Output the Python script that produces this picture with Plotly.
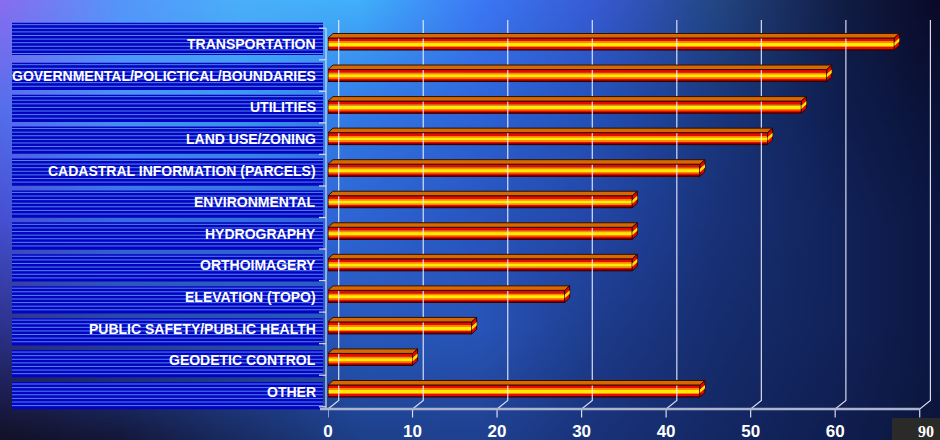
import base64
import struct
import zlib

import numpy as np
import plotly.graph_objects as go

# ---------------- data ----------------
categories = [
    "TRANSPORTATION",
    "GOVERNMENTAL/POLICTICAL/BOUNDARIES",
    "UTILITIES",
    "LAND USE/ZONING",
    "CADASTRAL INFORMATION (PARCELS)",
    "ENVIRONMENTAL",
    "HYDROGRAPHY",
    "ORTHOIMAGERY",
    "ELEVATION (TOPO)",
    "PUBLIC SAFETY/PUBLIC HEALTH",
    "GEODETIC CONTROL",
    "OTHER",
]
values = [67, 59, 56, 52, 44, 36, 36, 36, 28, 17, 10, 44]
x_ticks = [0, 10, 20, 30, 40, 50, 60, 70]
x_tick_labels = ["0", "10", "20", "30", "40", "50", "60", ""]
slide_number = "90"

# ---------------- geometry / style ----------------
W, H = 940, 440
N = len(categories)
X0_PX = 328.0          # pixel of x = 0
PX_PER_X = 8.453       # pixels per x unit
X_MAX = 71.8
ROW0_PX = 44.0         # pixel centre of first row
ROW_PX = 31.545        # pixels per row
PLOT_TOP_PX, PLOT_BOT_PX = 20.0, 418.0
AXIS_PX = 409.0        # floor (axis) line
BACK_BOT_PX = 400.5    # bottom of the back-wall gridlines
TICK_END_PX = 417.5


def y_of_px(p):
    return (ROW0_PX + (N - 1) * ROW_PX - p) / ROW_PX


def px(x):
    return x / W


def py(y):
    return 1 - y / H


ypos = [N - 1 - i for i in range(N)]

# ---------------- background gradient image ----------------
grid_x = [0, 120, 240, 360, 480, 600, 720, 840, 940]
grid_y = [0, 110, 220, 330, 440]
grid_c = np.array([
    [(135, 110, 240), (85, 150, 250), (75, 175, 250), (65, 175, 250), (60, 120, 245), (55, 90, 210), (35, 70, 130), (18, 30, 70), (10, 10, 40)],
    [(85, 110, 235), (70, 150, 245), (60, 150, 240), (50, 120, 230), (45, 100, 215), (35, 80, 180), (25, 55, 125), (15, 30, 80), (10, 18, 55)],
    [(70, 80, 210), (55, 110, 225), (50, 110, 220), (45, 100, 210), (40, 85, 190), (35, 70, 165), (25, 50, 120), (18, 35, 90), (12, 22, 65)],
    [(45, 50, 140), (40, 70, 170), (40, 80, 180), (40, 90, 190), (40, 85, 185), (30, 60, 140), (22, 45, 110), (18, 35, 90), (12, 22, 65)],
    [(18, 18, 40), (20, 25, 60), (25, 45, 100), (30, 65, 140), (32, 65, 145), (25, 50, 120), (20, 40, 100), (16, 30, 80), (12, 22, 60)],
], dtype=float)

IW, IH = 188, 88
xs = np.linspace(0, W, IW)
ys = np.linspace(0, H, IH)
rows = np.zeros((len(grid_y), IW, 3))
for r in range(len(grid_y)):
    for ch in range(3):
        rows[r, :, ch] = np.interp(xs, grid_x, grid_c[r, :, ch])
img = np.zeros((IH, IW, 3))
for c in range(IW):
    for ch in range(3):
        img[:, c, ch] = np.interp(ys, grid_y, rows[:, c, ch])
img = np.clip(img, 0, 255).astype(np.uint8)


def png_data_uri(arr):
    h, w, _ = arr.shape
    raw = b"".join(b"\x00" + arr[r].tobytes() for r in range(h))

    def chunk(tag, data):
        c = struct.pack(">I", len(data)) + tag + data
        return c + struct.pack(">I", zlib.crc32(tag + data) & 0xFFFFFFFF)

    png = (b"\x89PNG\r\n\x1a\n"
           + chunk(b"IHDR", struct.pack(">IIBBBBB", w, h, 8, 2, 0, 0, 0))
           + chunk(b"IDAT", zlib.compress(raw, 9))
           + chunk(b"IEND", b""))
    return "data:image/png;base64," + base64.b64encode(png).decode()


fig = go.Figure()

# ---------------- 3D gridlines (back wall + floor diagonal + tick) ----------------
back_dx = 10.7 / PX_PER_X
gx, gy = [], []
for v in x_ticks:
    gx += [v + back_dx, v + back_dx, v, v, None]
    gy += [y_of_px(PLOT_TOP_PX), y_of_px(BACK_BOT_PX), y_of_px(AXIS_PX), y_of_px(TICK_END_PX), None]
fig.add_trace(go.Scatter(x=gx, y=gy, mode="lines", hoverinfo="skip",
                         line=dict(color="rgba(235,238,255,0.9)", width=1.2)))
# floor axis line
fig.add_trace(go.Scatter(x=[0, x_ticks[-1]], y=[y_of_px(AXIS_PX)] * 2, mode="lines", hoverinfo="skip",
                         line=dict(color="rgb(172,180,208)", width=2.5)))

# ---------------- bars (striped front face) ----------------
stripes = [  # (top px, bottom px) relative to face centre, colour
    (-6.0, -2.7, "rgb(232,10,0)"),
    (-2.7, -1.0, "rgb(255,135,0)"),
    (-1.0, 2.0, "rgb(255,238,0)"),
    (2.0, 3.3, "rgb(255,135,0)"),
    (3.3, 5.0, "rgb(232,10,0)"),
    (5.0, 6.0, "rgb(150,0,0)"),
]
for a, b, col in stripes:
    fig.add_trace(go.Bar(orientation="h", y=ypos, x=values, base=0,
                         offset=-b / ROW_PX, width=(b - a) / ROW_PX,
                         marker=dict(color=col, line=dict(width=0)), hoverinfo="skip"))
fig.add_trace(go.Bar(orientation="h", y=ypos, x=values, base=0,
                     offset=-6.0 / ROW_PX, width=12.0 / ROW_PX,
                     marker=dict(color="rgba(0,0,0,0)", line=dict(color="rgb(40,0,0)", width=1)),
                     hoverinfo="skip"))

# ---------------- 3D top faces and end caps ----------------
dx = 5.0 / PX_PER_X
dy = 4.5 / ROW_PX
tx, ty, cx, cy, ix, iy = [], [], [], [], [], []
for v, yc in zip(values, ypos):
    yt = yc + 6.0 / ROW_PX
    yb = yc - 6.0 / ROW_PX
    tx += [0, v, v + dx, dx, 0, None]
    ty += [yt, yt, yt + dy, yt + dy, yt, None]
    cx += [v, v, v + dx, v + dx, v, None]
    cy += [yb, yt, yt + dy, yb + dy, yb, None]
    y1 = yc + 1.5 / ROW_PX
    y2 = yc - 2.0 / ROW_PX
    ix += [v, v, v + dx, v + dx, v, None]
    iy += [y2, y1, y1 + dy, y2 + dy, y2, None]
fig.add_trace(go.Scatter(x=tx, y=ty, mode="lines", fill="toself", fillcolor="rgb(215,105,0)",
                         line=dict(color="rgb(50,15,0)", width=1), hoverinfo="skip"))
fig.add_trace(go.Scatter(x=cx, y=cy, mode="lines", fill="toself", fillcolor="rgb(225,10,0)",
                         line=dict(color="rgb(50,0,0)", width=1), hoverinfo="skip"))
fig.add_trace(go.Scatter(x=ix, y=iy, mode="lines", fill="toself", fillcolor="rgb(255,225,0)",
                         line=dict(width=0), hoverinfo="skip"))

# ---------------- left label panel ----------------
shapes = []
annotations = []
PANEL_L, PANEL_R = 12.0, 323.0
for i, name in enumerate(categories):
    if i == 0:
        top, bot = 22.7, 55.0
    else:
        top = 62.7 + 31.93 * (i - 1)
        bot = top + 27.3
    shapes.append(dict(type="rect", xref="paper", yref="paper", layer="below",
                       x0=px(PANEL_L), x1=px(PANEL_R), y0=py(bot), y1=py(top),
                       fillcolor="rgb(3,3,192)", line=dict(width=0)))
    yy = top + 2.0
    while yy < bot - 0.8:
        shapes.append(dict(type="line", xref="paper", yref="paper", layer="below",
                           x0=px(PANEL_L), x1=px(PANEL_R), y0=py(yy), y1=py(yy),
                           line=dict(color="rgba(110,175,255,0.75)", width=1)))
        yy += 3.6
    annotations.append(dict(xref="paper", yref="paper", x=px(318), y=py(ROW0_PX + 31.64 * i),
                            xanchor="right", yanchor="middle", showarrow=False,
                            text="<b>%s</b>" % name,
                            font=dict(family="Liberation Sans, Arial", size=14, color="white")))

# y-axis bracket line with row boundary ticks, and left stub of the floor line
AX_X = 326.0
LINE_COL = "rgb(205,212,235)"
shapes.append(dict(type="line", xref="paper", yref="paper", x0=px(AX_X), x1=px(AX_X),
                   y0=py(ROW0_PX - ROW_PX / 2), y1=py(AXIS_PX),
                   line=dict(color=LINE_COL, width=1.3)))
for k in range(N + 1):
    yb_px = min(ROW0_PX + ROW_PX * (k - 0.5), AXIS_PX)
    shapes.append(dict(type="line", xref="paper", yref="paper", x0=px(319), x1=px(AX_X),
                       y0=py(yb_px), y1=py(yb_px),
                       line=dict(color=LINE_COL, width=1.3)))
shapes.append(dict(type="line", xref="paper", yref="paper", x0=px(320), x1=px(X0_PX + 1),
                   y0=py(AXIS_PX), y1=py(AXIS_PX),
                   line=dict(color="rgb(172,180,208)", width=2.5)))

# slide-number box
shapes.append(dict(type="rect", xref="paper", yref="paper", layer="above",
                   x0=px(892), x1=1, y0=0, y1=py(418),
                   fillcolor="rgb(42,42,40)", line=dict(width=0)))
annotations.append(dict(xref="paper", yref="paper", x=px(926), y=py(431),
                        xanchor="center", yanchor="middle", showarrow=False,
                        text="<b>%s</b>" % slide_number,
                        font=dict(family="Liberation Serif, DejaVu Serif", size=16, color="white")))

fig.update_layout(
    width=W, height=H, autosize=False,
    margin=dict(l=0, r=0, t=0, b=0, autoexpand=False),
    paper_bgcolor="rgb(25,45,110)",
    plot_bgcolor="rgba(0,0,0,0)",
    showlegend=False,
    barmode="overlay",
    images=[dict(source=png_data_uri(img), xref="paper", yref="paper", x=0, y=1,
                 sizex=1, sizey=1, xanchor="left", yanchor="top", sizing="stretch",
                 layer="below")],
    shapes=shapes,
    annotations=annotations,
    xaxis=dict(domain=[px(X0_PX), px(X0_PX + X_MAX * PX_PER_X)], range=[0, X_MAX],
               automargin=False,
               tickvals=x_ticks, ticktext=x_tick_labels, ticks="outside", ticklen=7,
               ticklabelstandoff=-9,
               tickwidth=1, tickcolor="rgba(0,0,0,0)", showgrid=False, zeroline=False,
               showline=False,
               tickfont=dict(family="Liberation Sans, Arial", size=17, color="white", weight="bold")),
    yaxis=dict(domain=[py(PLOT_BOT_PX), py(PLOT_TOP_PX)],
               range=[y_of_px(PLOT_BOT_PX), y_of_px(PLOT_TOP_PX)],
               automargin=False,
               visible=False, showgrid=False, zeroline=False),
)

fig.write_html("out.html",
               config={"displayModeBar": False},
               post_script="document.body.style.margin='0';document.body.style.overflow='hidden';")
